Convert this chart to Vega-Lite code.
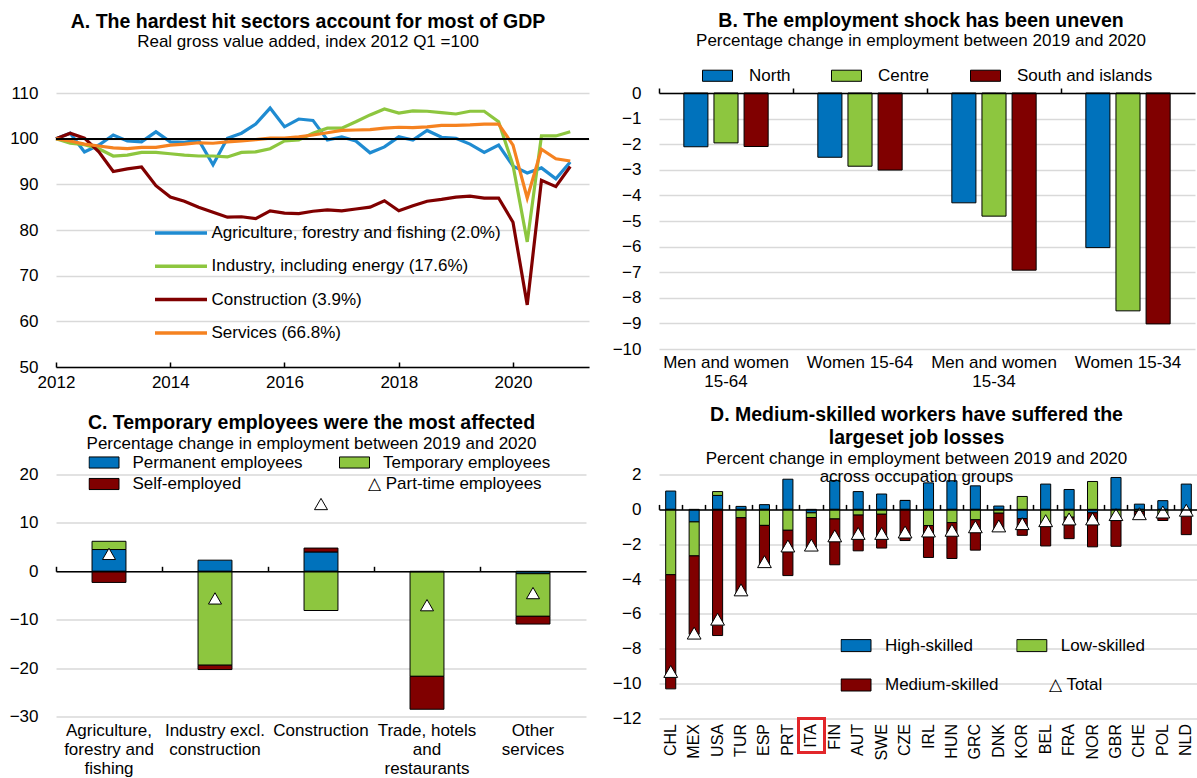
{
  "$schema": "https://vega.github.io/schema/vega-lite/v6.json",
  "padding": {"left": 9, "top": 10, "right": 0, "bottom": 0},
  "config": {
    "font": "Liberation Sans",
    "view": {"stroke": null},
    "axis": {"labelFont": "Liberation Sans", "labelFontSize": 17, "labelColor": "black", "gridColor": "#D9D9D9", "gridWidth": 1.5, "domainColor": "black", "tickColor": "black"},
    "legend": {"labelFont": "Liberation Sans", "labelFontSize": 17, "labelColor": "black", "padding": 0, "labelLimit": 400},
    "title": {"font": "Liberation Sans", "fontSize": 19.5, "fontWeight": "bold", "color": "black", "subtitleFont": "Liberation Sans", "subtitleFontSize": 17, "subtitleColor": "black", "subtitlePadding": 2, "anchor": "middle"}
  },
  "columns": 2,
  "spacing": {"row": 107.5, "column": 70},
  "bounds": "flush",
  "align": {"row": "each", "column": "none"},
  "resolve": {"scale": {"color": "independent", "shape": "independent"}, "legend": {"color": "independent", "shape": "independent"}},
  "concat": [
    {
      "width": 533, "height": 274,
      "title": {"text": "A. The hardest hit sectors account for most  of GDP", "subtitle": "Real gross value added, index 2012 Q1 =100", "offset": 33, "dx": -14.5},
      "data": {"values": [
        {"date": "2012/01/01", "agri": 100, "ind": 100, "con": 100, "serv": 100},
        {"date": "2012/04/01", "agri": 101.2, "ind": 99.0, "con": 101.2, "serv": 99.5},
        {"date": "2012/07/01", "agri": 97.1, "ind": 98.7, "con": 100.1, "serv": 98.8},
        {"date": "2012/10/01", "agri": 98.6, "ind": 97.8, "con": 97.1, "serv": 98.4},
        {"date": "2013/01/01", "agri": 100.8, "ind": 96.2, "con": 92.8, "serv": 98.0},
        {"date": "2013/04/01", "agri": 99.5, "ind": 96.4, "con": 93.4, "serv": 97.8},
        {"date": "2013/07/01", "agri": 99.3, "ind": 97.0, "con": 93.8, "serv": 98.1},
        {"date": "2013/10/01", "agri": 101.5, "ind": 97.0, "con": 89.7, "serv": 98.1},
        {"date": "2014/01/01", "agri": 99.3, "ind": 96.7, "con": 87.2, "serv": 98.6},
        {"date": "2014/04/01", "agri": 99.2, "ind": 96.4, "con": 86.3, "serv": 98.8},
        {"date": "2014/07/01", "agri": 99.7, "ind": 96.2, "con": 85.0, "serv": 99.1},
        {"date": "2014/10/01", "agri": 94.3, "ind": 96.2, "con": 83.9, "serv": 99.0},
        {"date": "2015/01/01", "agri": 100.1, "ind": 96.0, "con": 82.8, "serv": 99.3},
        {"date": "2015/04/01", "agri": 101.2, "ind": 97.0, "con": 82.9, "serv": 99.5},
        {"date": "2015/07/01", "agri": 103.2, "ind": 97.1, "con": 82.5, "serv": 99.8},
        {"date": "2015/10/01", "agri": 106.7, "ind": 97.8, "con": 84.2, "serv": 100.1},
        {"date": "2016/01/01", "agri": 102.6, "ind": 99.5, "con": 83.7, "serv": 100.1},
        {"date": "2016/04/01", "agri": 104.3, "ind": 99.7, "con": 83.6, "serv": 100.4},
        {"date": "2016/07/01", "agri": 104.0, "ind": 101.2, "con": 84.1, "serv": 100.8},
        {"date": "2016/10/01", "agri": 99.7, "ind": 102.3, "con": 84.4, "serv": 101.3},
        {"date": "2017/01/01", "agri": 100.4, "ind": 102.3, "con": 84.2, "serv": 101.8},
        {"date": "2017/04/01", "agri": 99.5, "ind": 103.7, "con": 84.6, "serv": 101.9},
        {"date": "2017/07/01", "agri": 96.9, "ind": 105.2, "con": 85.0, "serv": 102.0},
        {"date": "2017/10/01", "agri": 98.2, "ind": 106.5, "con": 86.4, "serv": 102.3},
        {"date": "2018/01/01", "agri": 100.4, "ind": 105.6, "con": 84.2, "serv": 102.5},
        {"date": "2018/04/01", "agri": 99.7, "ind": 106.1, "con": 85.3, "serv": 102.4},
        {"date": "2018/07/01", "agri": 101.8, "ind": 106.0, "con": 86.3, "serv": 102.6},
        {"date": "2018/10/01", "agri": 100.3, "ind": 105.7, "con": 86.7, "serv": 102.9},
        {"date": "2019/01/01", "agri": 100.1, "ind": 105.4, "con": 87.2, "serv": 102.9},
        {"date": "2019/04/01", "agri": 98.8, "ind": 106.0, "con": 87.4, "serv": 103.0},
        {"date": "2019/07/01", "agri": 97.0, "ind": 106.0, "con": 87.0, "serv": 103.2},
        {"date": "2019/10/01", "agri": 98.6, "ind": 103.7, "con": 87.0, "serv": 103.2},
        {"date": "2020/01/01", "agri": 94.0, "ind": 94.2, "con": 81.7, "serv": 98.6},
        {"date": "2020/04/01", "agri": 92.5, "ind": 77.4, "con": 63.6, "serv": 87.0},
        {"date": "2020/07/01", "agri": 93.6, "ind": 100.6, "con": 90.9, "serv": 97.7},
        {"date": "2020/10/01", "agri": 91.2, "ind": 100.6, "con": 89.5, "serv": 95.6},
        {"date": "2021/01/01", "agri": 94.9, "ind": 101.5, "con": 93.9, "serv": 95.1}
      ]},
      "layer": [
        {
          "transform": [{"fold": ["agri", "ind", "con", "serv"], "as": ["series", "value"]}],
          "mark": {"type": "line", "strokeWidth": 3.2},
          "encoding": {
            "x": {"field": "date", "type": "temporal",
              "scale": {"domain": [{"year": 2012, "month": 1, "date": 1}, {"year": 2021, "month": 5, "date": 1}]},
              "axis": {"title": null, "format": "%Y", "tickCount": {"interval": "year", "step": 2}, "grid": false, "ticks": false, "domain": true, "domainWidth": 1.5, "labelPadding": 7, "labelFlush": false}},
            "y": {"field": "value", "type": "quantitative", "scale": {"domain": [50, 110], "nice": false, "zero": false},
              "axis": {"title": null, "values": [50, 60, 70, 80, 90, 100, 110], "domain": false, "ticks": false, "labelPadding": 18, "grid": true}},
            "color": {"field": "series", "type": "nominal", "sort": ["agri", "ind", "con", "serv"],
              "scale": {"domain": ["agri", "ind", "con", "serv"], "range": ["#1F8BD1", "#8DC63F", "#800000", "#F58220"]},
              "legend": {"title": null, "orient": "none", "legendX": 97, "legendY": 130, "padding": 0, "symbolType": "stroke", "symbolSize": 2704, "symbolStrokeWidth": 3.5, "labelOffset": 2.5, "clipHeight": 20, "rowPadding": 13.3,
                "labelExpr": "datum.value == 'agri' ? 'Agriculture, forestry and fishing (2.0%)' : datum.value == 'ind' ? 'Industry, including energy (17.6%)' : datum.value == 'con' ? 'Construction (3.9%)' : 'Services (66.8%)'"}}
          }
        },
        {"mark": {"type": "rule", "color": "black", "strokeWidth": 1.5}, "encoding": {"y": {"datum": 100}}},
        {"mark": {"type": "point", "opacity": 0},
          "encoding": {"x": {"field": "date", "type": "temporal",
            "axis": {"orient": "top", "offset": -274, "title": null, "labels": false, "domain": false, "grid": false, "ticks": true, "tickSize": 5, "tickWidth": 1.5, "tickColor": "black", "tickCount": {"interval": "year", "step": 2}}}}}
      ],
      "resolve": {"axis": {"x": "independent"}}
    },
    {
      "width": 536, "height": 256,
      "title": {"text": "B. The employment shock has been uneven", "subtitle": "Percentage change in employment between 2019 and 2020", "offset": 10, "dx": -6},
      "data": {"values": [
        {"g": "Men and women 15-64", "North": -2.1, "Centre": -1.95, "South and islands": -2.09},
        {"g": "Women 15-64", "North": -2.51, "Centre": -2.86, "South and islands": -3.01},
        {"g": "Men and women 15-34", "North": -4.29, "Centre": -4.81, "South and islands": -6.92},
        {"g": "Women 15-34", "North": -6.04, "Centre": -8.51, "South and islands": -9.02}
      ]},
      "layer": [
        {
          "transform": [{"fold": ["North", "Centre", "South and islands"], "as": ["region", "value"]}],
          "mark": {"type": "bar", "stroke": "black", "strokeWidth": 1},
          "encoding": {
            "x": {"field": "g", "type": "nominal", "sort": null, "scale": {"paddingInner": 0, "paddingOuter": 0},
              "axis": {"title": null, "orient": "bottom", "domain": false, "ticks": false, "labelAngle": 0, "labelPadding": 5, "labelLineHeight": 19,
                "labelExpr": "datum.value == 'Men and women 15-64' ? ['Men and women', '15-64'] : datum.value == 'Men and women 15-34' ? ['Men and women', '15-34'] : datum.value"}},
            "xOffset": {"field": "region", "type": "nominal", "sort": ["North", "Centre", "South and islands"], "scale": {"paddingInner": 0.2, "paddingOuter": 0.825}},
            "y": {"field": "value", "type": "quantitative", "scale": {"domain": [-10, 0], "nice": false},
              "axis": {"title": null, "values": [0, -1, -2, -3, -4, -5, -6, -7, -8, -9, -10], "domain": false, "ticks": false, "labelPadding": 18}},
            "color": {"field": "region", "type": "nominal", "sort": ["North", "Centre", "South and islands"],
              "scale": {"domain": ["North", "Centre", "South and islands"], "range": ["#0072BC", "#8DC63F", "#800000"]},
              "legend": {"title": null, "orient": "none", "legendX": 43, "legendY": -33, "direction": "horizontal", "columns": 3, "padding": 0, "symbolType": "M-1,-0.37H1V0.37H-1Z", "symbolSize": 900, "symbolStrokeColor": "black", "symbolStrokeWidth": 1, "labelOffset": 16, "columnPadding": 38}}
          }
        },
        {"mark": {"type": "point", "opacity": 0},
          "encoding": {"x": {"field": "g", "type": "nominal", "sort": null,
            "axis": {"orient": "top", "title": null, "labels": false, "domain": true, "domainWidth": 1.5, "ticks": true, "tickSize": 5, "tickWidth": 1.5, "bandPosition": 0, "grid": false, "zindex": 1}}}}
      ],
      "resolve": {"axis": {"x": "independent"}}
    },
    {
      "width": 530, "height": 242,
      "title": {"text": "C. Temporary employees were the most affected", "subtitle": "Percentage change in employment between 2019 and 2020", "offset": 0, "dx": -9.5},
      "data": {"values": [
        {"s": "Agriculture, forestry and fishing", "Permanent employees": 4.5, "Temporary employees": 1.7, "Self-employed": -2.3, "Part-time employees": 3.6},
        {"s": "Industry excl. construction", "Permanent employees": 2.3, "Temporary employees": -19.4, "Self-employed": -0.9, "Part-time employees": -5.6},
        {"s": "Construction", "Permanent employees": 4.0, "Temporary employees": -8.1, "Self-employed": 0.8, "Part-time employees": 13.9},
        {"s": "Trade, hotels and restaurants", "Permanent employees": -0.1, "Temporary employees": -21.6, "Self-employed": -6.8, "Part-time employees": -7.0},
        {"s": "Other services", "Permanent employees": -0.5, "Temporary employees": -8.8, "Self-employed": -1.6, "Part-time employees": -4.5}
      ]},
      "layer": [
        {
          "transform": [
            {"fold": ["Permanent employees", "Temporary employees", "Self-employed"], "as": ["cat", "value"]},
            {"lookup": "cat", "from": {"data": {"values": [{"cat": "Permanent employees", "rank": 1}, {"cat": "Temporary employees", "rank": 2}, {"cat": "Self-employed", "rank": 3}]}, "key": "cat", "fields": ["rank"]}}
          ],
          "mark": {"type": "bar", "stroke": "black", "strokeWidth": 1, "width": {"band": 0.32}},
          "encoding": {
            "x": {"field": "s", "type": "nominal", "sort": null, "scale": {"paddingInner": 0, "paddingOuter": 0},
              "axis": {"title": null, "orient": "bottom", "domain": false, "ticks": false, "labelAngle": 0, "labelPadding": 6, "labelLineHeight": 19,
                "labelExpr": "datum.value == 'Agriculture, forestry and fishing' ? ['Agriculture,', 'forestry and', 'fishing'] : datum.value == 'Industry excl. construction' ? ['Industry excl.', 'construction'] : datum.value == 'Trade, hotels and restaurants' ? ['Trade, hotels', 'and', 'restaurants'] : datum.value == 'Other services' ? ['Other', 'services'] : datum.value"}},
            "y": {"field": "value", "type": "quantitative", "stack": "zero", "scale": {"domain": [-30, 20], "nice": false},
              "axis": {"title": null, "values": [-30, -20, -10, 0, 10, 20], "domain": false, "ticks": false, "labelPadding": 18}},
            "order": {"field": "rank", "type": "quantitative", "sort": "ascending"},
            "color": {"field": "cat", "type": "nominal",
              "scale": {"domain": ["Permanent employees", "Temporary employees", "Self-employed"], "range": ["#0072BC", "#8DC63F", "#800000"]},
              "legend": {"title": null, "orient": "none", "legendX": 32.5, "legendY": -22, "direction": "horizontal", "columns": 2, "padding": 0, "symbolType": "M-1,-0.37H1V0.37H-1Z", "symbolSize": 900, "symbolStrokeColor": "black", "symbolStrokeWidth": 1, "labelOffset": 13, "columnPadding": 35.5, "clipHeight": 20, "rowPadding": 1.5}}
          }
        },
        {
          "transform": [{"fold": ["Part-time employees"], "as": ["pk", "pv"]}],
          "mark": {"type": "point", "filled": false, "fill": "white", "color": "black", "stroke": "black", "strokeWidth": 1, "size": 170, "opacity": 1},
          "encoding": {
            "x": {"field": "s", "type": "nominal", "sort": null, "axis": null},
            "y": {"field": "pv", "type": "quantitative", "axis": {"title": null, "values": [-30, -20, -10, 0, 10, 20], "domain": false, "ticks": false, "labelPadding": 18}},
            "shape": {"field": "pk", "type": "nominal", "scale": {"range": ["triangle-up"]},
              "legend": {"title": null, "orient": "none", "legendX": 292.5, "legendY": 1, "padding": 0, "symbolType": "triangle-up", "symbolSize": 100, "symbolOpacity": 0, "labelOffset": 2.5,
                "labelExpr": "'△ ' + datum.label"}}
          }
        },
        {"mark": {"type": "point", "opacity": 0},
          "encoding": {"x": {"field": "s", "type": "nominal", "sort": null,
            "axis": {"orient": "top", "offset": -96.8, "title": null, "labels": false, "domain": true, "domainWidth": 1.5, "ticks": true, "tickSize": 5, "tickWidth": 1.5, "bandPosition": 0, "grid": false, "zindex": 1}}}}
      ],
      "resolve": {"axis": {"x": "independent"}}
    },
    {
      "width": 539, "height": 244,
      "title": {"text": ["D. Medium-skilled workers have suffered the", "largeset job losses"], "subtitle": ["Percent change in employment between 2019 and 2020", "across occupation groups"], "offset": -20.5, "dx": -12, "lineHeight": 23.3, "subtitleLineHeight": 18},
      "data": {"values": [
        {"c": "CHL", "High-skilled": 1.05, "Low-skilled": -3.75, "Medium-skilled": -6.55, "Total": -9.3},
        {"c": "MEX", "High-skilled": -0.72, "Low-skilled": -1.95, "Medium-skilled": -4.5, "Total": -7.1},
        {"c": "USA", "High-skilled": 0.8, "Low-skilled": 0.22, "Medium-skilled": -7.24, "Total": -6.3},
        {"c": "TUR", "High-skilled": 0.17, "Low-skilled": -0.48, "Medium-skilled": -4.35, "Total": -4.62},
        {"c": "ESP", "High-skilled": 0.27, "Low-skilled": -0.92, "Medium-skilled": -2.3, "Total": -3.0},
        {"c": "PRT", "High-skilled": 1.73, "Low-skilled": -1.2, "Medium-skilled": -2.6, "Total": -2.1},
        {"c": "ITA", "High-skilled": -0.2, "Low-skilled": -0.27, "Medium-skilled": -1.72, "Total": -2.05},
        {"c": "FIN", "High-skilled": 1.65, "Low-skilled": -0.55, "Medium-skilled": -2.63, "Total": -1.52},
        {"c": "AUT", "High-skilled": 1.02, "Low-skilled": -0.33, "Medium-skilled": -2.05, "Total": -1.38},
        {"c": "SWE", "High-skilled": 0.88, "Low-skilled": -0.28, "Medium-skilled": -1.94, "Total": -1.38},
        {"c": "CZE", "High-skilled": 0.51, "Low-skilled": 0, "Medium-skilled": -1.79, "Total": -1.3},
        {"c": "IRL", "High-skilled": 1.52, "Low-skilled": -0.93, "Medium-skilled": -1.83, "Total": -1.24},
        {"c": "HUN", "High-skilled": 1.64, "Low-skilled": -0.76, "Medium-skilled": -2.06, "Total": -1.2},
        {"c": "GRC", "High-skilled": 1.35, "Low-skilled": -0.6, "Medium-skilled": -1.74, "Total": -1.0},
        {"c": "DNK", "High-skilled": 0.19, "Low-skilled": -0.22, "Medium-skilled": -1.0, "Total": -0.95},
        {"c": "KOR", "High-skilled": -0.53, "Low-skilled": 0.74, "Medium-skilled": -0.96, "Total": -0.82},
        {"c": "BEL", "High-skilled": 1.45, "Low-skilled": -0.82, "Medium-skilled": -1.28, "Total": -0.65},
        {"c": "FRA", "High-skilled": 1.14, "Low-skilled": -0.45, "Medium-skilled": -1.23, "Total": -0.55},
        {"c": "NOR", "High-skilled": -0.2, "Low-skilled": 1.6, "Medium-skilled": -1.95, "Total": -0.55},
        {"c": "GBR", "High-skilled": 1.83, "Low-skilled": -0.52, "Medium-skilled": -1.6, "Total": -0.3},
        {"c": "CHE", "High-skilled": 0.3, "Low-skilled": -0.12, "Medium-skilled": -0.36, "Total": -0.25},
        {"c": "POL", "High-skilled": 0.5, "Low-skilled": -0.44, "Medium-skilled": -0.2, "Total": -0.15},
        {"c": "NLD", "High-skilled": 1.45, "Low-skilled": -0.22, "Medium-skilled": -1.23, "Total": -0.05}
      ]},
      "layer": [
        {
          "transform": [{"fold": ["High-skilled", "Low-skilled", "Medium-skilled"], "as": ["cat", "value"]}],
          "mark": {"type": "bar", "stroke": "black", "strokeWidth": 1, "width": {"band": 0.43}},
          "encoding": {
            "x": {"field": "c", "type": "nominal", "sort": null, "scale": {"paddingInner": 0, "paddingOuter": 0},
              "axis": {"title": null, "orient": "bottom", "domain": false, "ticks": false, "labelAngle": -90, "labelPadding": 5, "labelFontSize": 16}},
            "y": {"field": "value", "type": "quantitative", "stack": "zero", "scale": {"domain": [-12, 2], "nice": false},
              "axis": {"title": null, "values": [-12, -10, -8, -6, -4, -2, 0, 2], "domain": false, "ticks": false, "labelPadding": 18}},
            "order": {"field": "cat", "type": "nominal", "sort": "ascending"},
            "color": {"field": "cat", "type": "nominal",
              "scale": {"domain": ["High-skilled", "Low-skilled", "Medium-skilled"], "range": ["#0072BC", "#8DC63F", "#800000"]},
              "legend": {"title": null, "orient": "none", "legendX": 181.5, "legendY": 161.1, "direction": "horizontal", "columns": 2, "padding": 0, "symbolType": "M-1,-0.4H1V0.4H-1Z", "symbolSize": 900, "symbolStrokeColor": "black", "symbolStrokeWidth": 1, "labelOffset": 13.5, "columnPadding": 17.8, "clipHeight": 20, "rowPadding": 19.4}}
          }
        },
        {
          "transform": [{"fold": ["Total"], "as": ["tk", "tv"]}],
          "mark": {"type": "point", "filled": false, "fill": "white", "color": "black", "stroke": "black", "strokeWidth": 1, "size": 190, "opacity": 1},
          "encoding": {
            "x": {"field": "c", "type": "nominal", "sort": null, "axis": null},
            "y": {"field": "tv", "type": "quantitative", "axis": {"title": null, "values": [-12, -10, -8, -6, -4, -2, 0, 2], "domain": false, "ticks": false, "labelPadding": 18}},
            "shape": {"field": "tk", "type": "nominal", "scale": {"range": ["triangle-up"]},
              "legend": {"title": null, "orient": "none", "legendX": 371.5, "legendY": 202, "padding": 0, "symbolType": "triangle-up", "symbolSize": 100, "symbolOpacity": 0, "labelOffset": 1.5,
                "labelExpr": "'△ ' + datum.label"}}
          }
        },
        {
          "mark": {"type": "point", "shape": "M-0.756,-1H0.756V1H-0.756Z", "filled": false, "stroke": "#E2272B", "strokeWidth": 2.5, "size": 1183, "opacity": 1},
          "encoding": {"x": {"datum": "ITA", "axis": null}, "y": {"datum": -12.98, "axis": {"title": null, "values": [-12, -10, -8, -6, -4, -2, 0, 2], "domain": false, "ticks": false, "labelPadding": 18}}}
        },
        {"mark": {"type": "point", "opacity": 0},
          "encoding": {"x": {"field": "c", "type": "nominal", "sort": null,
            "axis": {"orient": "top", "offset": -34.9, "title": null, "labels": false, "domain": true, "domainWidth": 1.5, "ticks": true, "tickSize": 5, "tickWidth": 1.5, "bandPosition": 0, "grid": false, "zindex": 1}}}}
      ],
      "resolve": {"axis": {"x": "independent"}}
    }
  ]
}
